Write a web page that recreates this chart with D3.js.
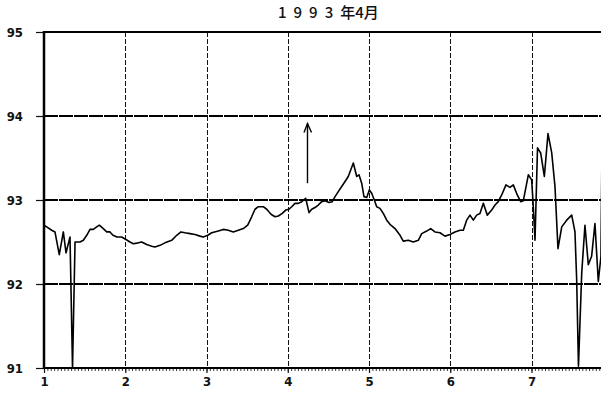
<!DOCTYPE html>
<html>
<head>
<meta charset="utf-8">
<script src="https://cdn.jsdelivr.net/npm/d3@7"></script>
<style>
  body { margin: 0; background: #fff; }
  svg { display: block; }
  .tick text { font-family: "DejaVu Sans Condensed", "DejaVu Sans", sans-serif; font-weight: bold; fill: #111; }
</style>
</head>
<body>
<div id="chart"></div>
<script>
var width = 601,
    height = 395;

// title and ticks
var title = ["1993", "年4月"];
var yTicks = [91, 92, 93, 94, 95];
var xTicks = [1, 2, 3, 4, 5, 6, 7];

// series (day of month, value)
var days = [1.000, 1.033, 1.095, 1.135, 1.188, 1.238, 1.271, 1.320, 1.351, 1.382,
  1.443, 1.484, 1.526, 1.566, 1.607, 1.649, 1.681, 1.730, 1.772, 1.812,
  1.849, 1.898, 1.956, 2.009, 2.058, 2.099, 2.161, 2.202, 2.264, 2.326,
  2.366, 2.428, 2.489, 2.572, 2.633, 2.686, 2.735, 2.797, 2.858, 2.920,
  2.961, 3.015, 3.064, 3.145, 3.207, 3.268, 3.330, 3.391, 3.453, 3.507,
  3.556, 3.597, 3.638, 3.699, 3.741, 3.794, 3.843, 3.884, 3.933, 3.975,
  4.015, 4.049, 4.089, 4.130, 4.172, 4.221, 4.262, 4.295, 4.335, 4.376,
  4.418, 4.458, 4.508, 4.548, 4.582, 4.622, 4.664, 4.705, 4.745, 4.807,
  4.849, 4.877, 4.910, 4.938, 4.972, 5.004, 5.033, 5.065, 5.095, 5.135,
  5.176, 5.218, 5.258, 5.320, 5.382, 5.422, 5.484, 5.545, 5.607, 5.649,
  5.710, 5.759, 5.812, 5.874, 5.935, 5.997, 6.058, 6.120, 6.161, 6.202,
  6.243, 6.284, 6.325, 6.366, 6.407, 6.456, 6.510, 6.551, 6.591, 6.633,
  6.686, 6.735, 6.776, 6.825, 6.867, 6.899, 6.961, 7.002, 7.022, 7.043,
  7.074, 7.113, 7.158, 7.203, 7.249, 7.289, 7.326, 7.372, 7.433, 7.495,
  7.535, 7.556, 7.578, 7.618, 7.658, 7.699, 7.740, 7.781, 7.822, 7.855,
  7.868];
var values = [92.70, 92.68, 92.64, 92.62, 92.35, 92.62, 92.37, 92.56, 91.00, 92.50,
  92.50, 92.52, 92.58, 92.65, 92.65, 92.68, 92.70, 92.66, 92.62, 92.62,
  92.58, 92.56, 92.56, 92.53, 92.50, 92.48, 92.49, 92.50, 92.47, 92.45,
  92.44, 92.46, 92.49, 92.52, 92.58, 92.62, 92.61, 92.60, 92.59, 92.57,
  92.56, 92.58, 92.61, 92.63, 92.65, 92.64, 92.62, 92.64, 92.66, 92.70,
  92.80, 92.89, 92.92, 92.92, 92.89, 92.83, 92.80, 92.81, 92.84, 92.88,
  92.89, 92.92, 92.96, 92.96, 92.98, 93.02, 92.85, 92.89, 92.91, 92.94,
  92.98, 92.99, 92.97, 92.98, 93.04, 93.10, 93.16, 93.22, 93.28, 93.44,
  93.28, 93.30, 93.20, 93.04, 93.03, 93.12, 93.08, 93.00, 92.92, 92.90,
  92.84, 92.76, 92.71, 92.66, 92.58, 92.51, 92.52, 92.50, 92.52, 92.60,
  92.63, 92.66, 92.62, 92.61, 92.57, 92.59, 92.62, 92.64, 92.64, 92.76,
  92.82, 92.76, 92.82, 92.84, 92.96, 92.82, 92.88, 92.94, 92.98, 93.06,
  93.18, 93.15, 93.18, 93.06, 92.98, 92.99, 93.30, 93.24, 92.92, 92.52,
  93.62, 93.56, 93.28, 93.79, 93.56, 93.16, 92.42, 92.68, 92.76, 92.82,
  92.62, 92.05, 91.02, 92.13, 92.70, 92.23, 92.33, 92.72, 92.03, 92.33,
  93.65];

// arrow marker (day, from, to)
var arrowDay = 4.243, arrowFrom = 93.20, arrowTo = 93.91;

var margin = {top: 32, left: 44, bottom: 27};
var dayWidth = 81.25;

var x = d3.scaleLinear()
    .domain([1, 8])
    .range([margin.left, margin.left + 7 * dayWidth]);
var y = d3.scaleLinear()
    .domain([91, 95])
    .range([height - margin.bottom, margin.top]);

var svg = d3.select("#chart").append("svg")
    .attr("width", width)
    .attr("height", height);

// grid
svg.append("g")
    .attr("shape-rendering", "crispEdges")
    .selectAll("line")
    .data(xTicks.slice(1))
    .enter().append("line")
    .attr("x1", function(d) { return Math.round(x(d)); })
    .attr("x2", function(d) { return Math.round(x(d)); })
    .attr("y1", y(95)).attr("y2", y(91))
    .attr("stroke", "#111")
    .attr("stroke-width", 1)
    .attr("stroke-dasharray", "5,2");

svg.append("g")
    .attr("shape-rendering", "crispEdges")
    .selectAll("line")
    .data([92, 93, 94])
    .enter().append("line")
    .attr("x1", x(1)).attr("x2", width)
    .attr("y1", y).attr("y2", y)
    .attr("stroke", "#000")
    .attr("stroke-width", 1.3)
    .attr("stroke-dasharray", "14,1");

// hourly minor ticks along the bottom
var minor = svg.append("g")
    .attr("transform", "translate(0," + y(91) + ")")
    .call(d3.axisBottom(x)
        .tickValues(d3.range(0, 7 * 24 + 1).map(function(h) { return 1 + h / 24; }))
        .tickSize(3)
        .tickFormat(""));
minor.select(".domain").remove();
minor.selectAll(".tick line").attr("stroke", "#222").attr("stroke-width", 0.9);

// day labels
var xAxis = svg.append("g")
    .attr("transform", "translate(0," + y(91) + ")")
    .call(d3.axisBottom(x)
        .tickValues(xTicks)
        .tickSize(5)
        .tickPadding(4)
        .tickFormat(d3.format("d")));
xAxis.select(".domain").remove();
xAxis.selectAll(".tick line").attr("stroke", "#111").attr("stroke-width", 1.2);
xAxis.selectAll(".tick text").attr("font-size", 13);

// value labels
var yAxis = svg.append("g")
    .attr("transform", "translate(" + x(1) + ",0)")
    .call(d3.axisLeft(y)
        .tickValues(yTicks)
        .tickSize(8)
        .tickPadding(13)
        .tickFormat(d3.format("d")));
yAxis.select(".domain").remove();
yAxis.selectAll(".tick line").attr("stroke", "#111").attr("stroke-width", 1.2);
yAxis.selectAll(".tick text").attr("font-size", 13);

// frame
svg.append("line")
    .attr("x1", x(1) - 1).attr("x2", width)
    .attr("y1", y(95)).attr("y2", y(95))
    .attr("stroke", "#000").attr("stroke-width", 2);
svg.append("line")
    .attr("x1", x(1)).attr("x2", width)
    .attr("y1", y(91)).attr("y2", y(91))
    .attr("stroke", "#000").attr("stroke-width", 2);
svg.append("line")
    .attr("x1", x(1)).attr("x2", x(1))
    .attr("y1", y(95) - 1).attr("y2", y(91) + 1)
    .attr("stroke", "#000").attr("stroke-width", 2.5);

// the series
var line = d3.line()
    .x(function(d, i) { return x(days[i]); })
    .y(function(d) { return y(d); });

svg.append("path")
    .datum(values)
    .attr("fill", "none")
    .attr("stroke", "#000")
    .attr("stroke-width", 1.6)
    .attr("stroke-linejoin", "round")
    .attr("d", line);

// arrow
var ax = x(arrowDay);
svg.append("line")
    .attr("x1", ax).attr("x2", ax)
    .attr("y1", y(arrowFrom)).attr("y2", y(arrowTo))
    .attr("stroke", "#000").attr("stroke-width", 1.4);
svg.append("path")
    .attr("d", "M" + (ax - 3.5) + "," + (y(arrowTo) + 9) + "L" + ax + "," + y(arrowTo) + "L" + (ax + 4) + "," + (y(arrowTo) + 9))
    .attr("fill", "none").attr("stroke", "#000").attr("stroke-width", 1.4);

// title
var t = svg.append("text")
    .attr("x", 278)
    .attr("y", 18)
    .attr("font-family", "'Noto Sans CJK JP', sans-serif")
    .attr("font-size", 15)
    .attr("font-weight", 500)
    .attr("fill", "#111");
t.append("tspan").attr("letter-spacing", 7).text(title[0]);
t.append("tspan").text(title[1]);
</script>
</body>
</html>
